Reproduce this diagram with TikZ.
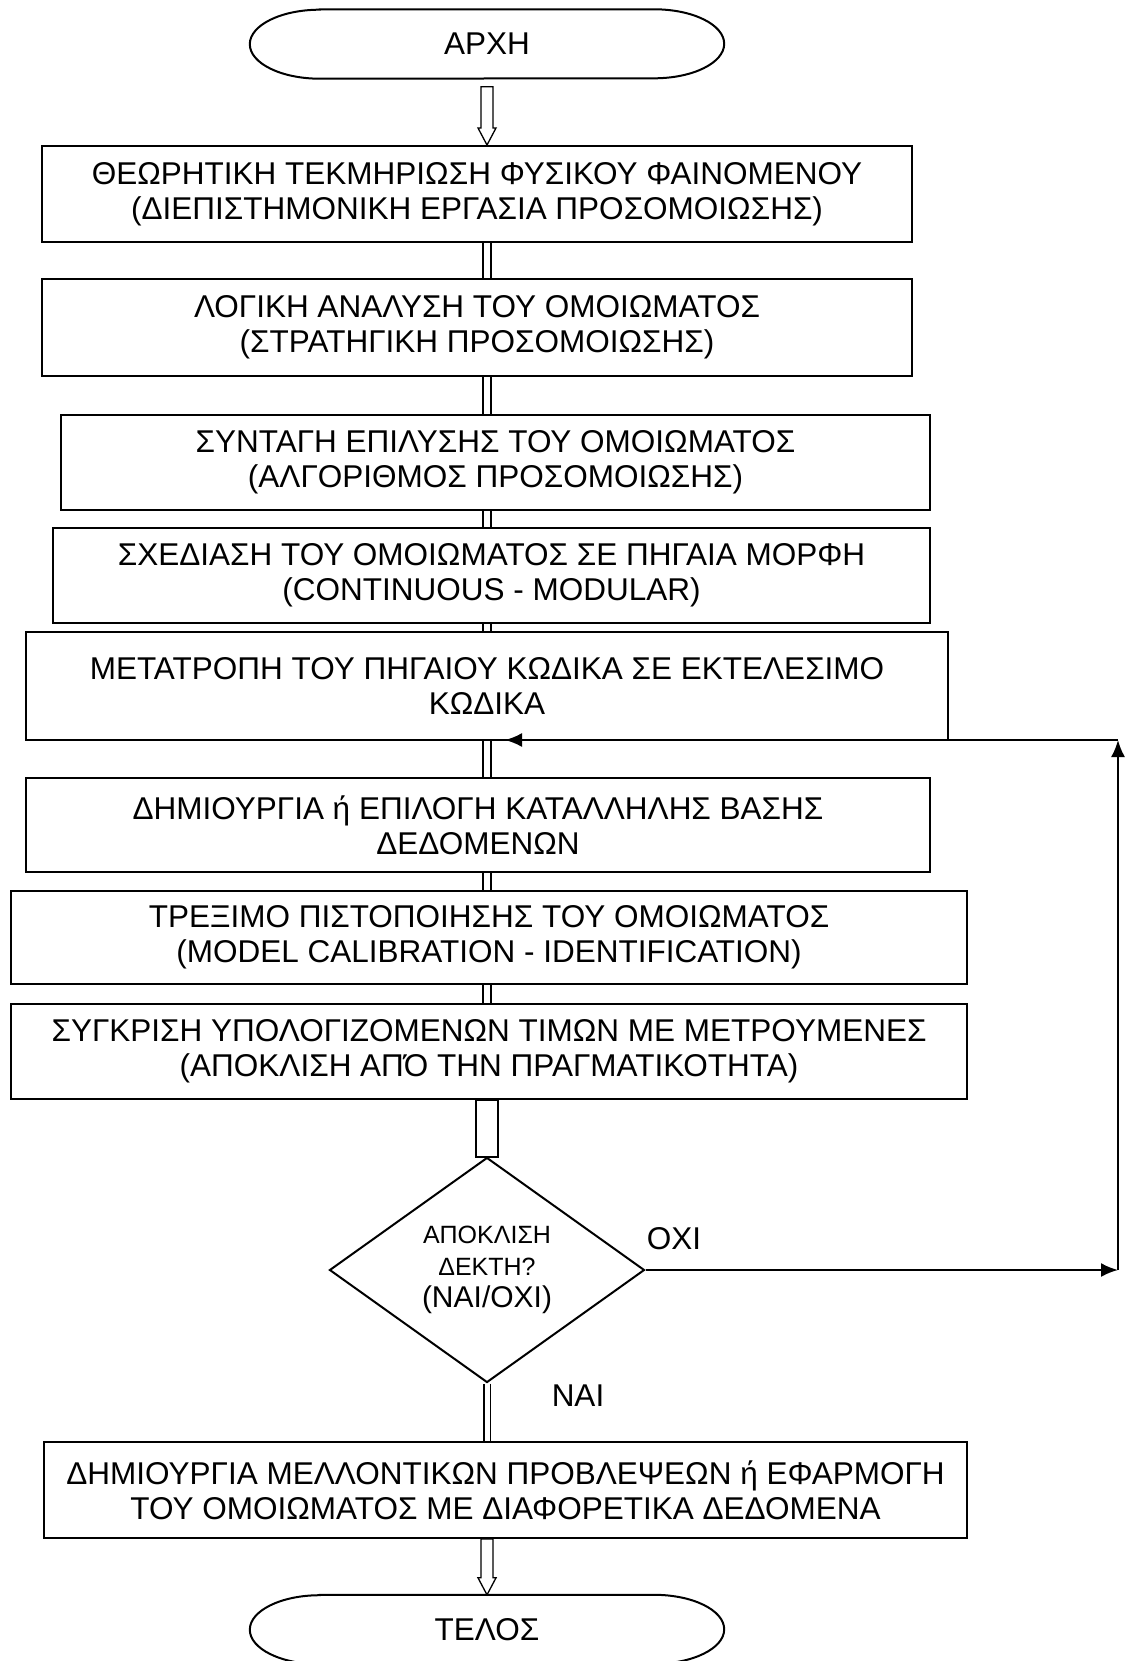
\documentclass[tikz,border=0pt]{standalone}
\usepackage{fontspec}
\setmainfont{Liberation Sans}
\usepackage{tikz}
\usetikzlibrary{calc}
\usetikzlibrary{arrows.meta}
\usetikzlibrary{shapes.geometric}
\pgfdeclarelayer{nodelayer}
\pgfdeclarelayer{edgelayer}
\pgfsetlayers{edgelayer,nodelayer,main}
\tikzset{
    none/.style = {inner sep=0pt},
    box/.style = {draw, line width=2pt, inner sep=0pt, align=center, font=\fontsize{31.5}{35}\selectfont},
    terminal/.style = {inner sep=0pt, minimum width=474pt, minimum height=69pt, font=\fontsize{31.5}{35}\selectfont},
    decision/.style = {diamond, draw, line width=2pt, inner sep=0pt, aspect=1.4, minimum width=315pt, minimum height=225pt, align=center},
    link/.style = {line width=1.6pt, double, double distance=6pt},
    flow/.style = {line width=2pt}
}
% outline of a start/end symbol with elliptic ends
\newcommand{\terminalline}[1]{%
    \draw [flow] ([xshift=70pt]#1.north west) -- ([xshift=-70pt]#1.north east)
        arc [start angle=90, end angle=-90, x radius=70pt, y radius=34.5pt]
        -- ([xshift=70pt]#1.south west)
        arc [start angle=270, end angle=90, x radius=70pt, y radius=34.5pt] -- cycle;}
% hollow block arrow going down from #1 to #2
\newcommand{\openarrow}[2]{%
    \draw [line width=1.3pt] ($(#1)+(-6,0)$) -- ($(#2)+(-6,-17)$) -- ($(#2)+(-9,-17)$) -- (#2)
        -- ($(#2)+(9,-17)$) -- ($(#2)+(6,-17)$) -- ($(#1)+(6,0)$) -- cycle;}

\begin{document}
\begin{tikzpicture}[x=1pt, y=-1pt]
    \tikzset{>={Latex[length=17pt, width=14pt]}}
    \useasboundingbox (0,0) rectangle (1131,1661);

    \begin{pgfonlayer}{nodelayer}
        \node [style=terminal] (start) at (487, 44) {ΑΡΧΗ};
        \node [style=box, minimum width=870pt, minimum height=96pt] (0) at (477, 194)
            {ΘΕΩΡΗΤΙΚΗ ΤΕΚΜΗΡΙΩΣΗ ΦΥΣΙΚΟΥ ΦΑΙΝΟΜΕΝΟΥ\\(ΔΙΕΠΙΣΤΗΜΟΝΙΚΗ ΕΡΓΑΣΙΑ ΠΡΟΣΟΜΟΙΩΣΗΣ)};
        \node [style=box, minimum width=870pt, minimum height=97pt] (1) at (477, 327.5)
            {ΛΟΓΙΚΗ ΑΝΑΛΥΣΗ ΤΟΥ ΟΜΟΙΩΜΑΤΟΣ\\(ΣΤΡΑΤΗΓΙΚΗ ΠΡΟΣΟΜΟΙΩΣΗΣ)};
        \node [style=box, minimum width=869pt, minimum height=95pt] (2) at (495.5, 462.5)
            {ΣΥΝΤΑΓΗ ΕΠΙΛΥΣΗΣ ΤΟΥ ΟΜΟΙΩΜΑΤΟΣ\\(ΑΛΓΟΡΙΘΜΟΣ ΠΡΟΣΟΜΟΙΩΣΗΣ)};
        \node [style=box, minimum width=877pt, minimum height=95pt] (3) at (491.5, 575.5)
            {ΣΧΕΔΙΑΣΗ ΤΟΥ ΟΜΟΙΩΜΑΤΟΣ ΣΕ ΠΗΓΑΙΑ ΜΟΡΦΗ\\(CONTINUOUS - MODULAR)};
        \node [style=box, minimum width=922pt, minimum height=108pt] (4) at (487, 686)
            {ΜΕΤΑΤΡΟΠΗ ΤΟΥ ΠΗΓΑΙΟΥ ΚΩΔΙΚΑ ΣΕ ΕΚΤΕΛΕΣΙΜΟ\\ΚΩΔΙΚΑ};
        \node [style=box, minimum width=904pt, minimum height=94pt] (5) at (478, 825)
            {ΔΗΜΙΟΥΡΓΙΑ ή ΕΠΙΛΟΓΗ ΚΑΤΑΛΛΗΛΗΣ ΒΑΣΗΣ\\ΔΕΔΟΜΕΝΩΝ};
        \node [style=box, minimum width=956pt, minimum height=93pt] (6) at (489, 937.5)
            {ΤΡΕΞΙΜΟ ΠΙΣΤΟΠΟΙΗΣΗΣ ΤΟΥ ΟΜΟΙΩΜΑΤΟΣ\\(MODEL CALIBRATION - IDENTIFICATION)};
        \node [style=box, minimum width=956pt, minimum height=95pt] (7) at (489, 1051.5)
            {ΣΥΓΚΡΙΣΗ ΥΠΟΛΟΓΙΖΟΜΕΝΩΝ ΤΙΜΩΝ ΜΕ ΜΕΤΡΟΥΜΕΝΕΣ\\(ΑΠΟΚΛΙΣΗ ΑΠΌ ΤΗΝ ΠΡΑΓΜΑΤΙΚΟΤΗΤΑ)};
        \node [style=decision, font=\fontsize{25}{32}\selectfont] (dec) at (487, 1270)
            {ΑΠΟΚΛΙΣΗ\\ΔΕΚΤΗ?\\{\fontsize{30}{32}\selectfont(ΝΑΙ/ΟΧΙ)}};
        \node [style=box, minimum width=923pt, minimum height=96pt] (8) at (505.5, 1490)
            {ΔΗΜΙΟΥΡΓΙΑ ΜΕΛΛΟΝΤΙΚΩΝ ΠΡΟΒΛΕΨΕΩΝ ή ΕΦΑΡΜΟΓΗ\\ΤΟΥ ΟΜΟΙΩΜΑΤΟΣ ΜΕ ΔΙΑΦΟΡΕΤΙΚΑ ΔΕΔΟΜΕΝΑ};
        \node [style=terminal] (end) at (487, 1629.5) {ΤΕΛΟΣ};
        \node [style=none, font=\fontsize{31.5}{35}\selectfont] (no) at (674, 1239) {ΟΧΙ};
        \node [style=none, font=\fontsize{31.5}{35}\selectfont] (yes) at (578, 1396) {ΝΑΙ};
        \coordinate (axis) at (487, 0);
        \coordinate (r1) at (1118, 1270);
        \coordinate (r2) at (1118, 740);
        \coordinate (back) at (505, 740);
    \end{pgfonlayer}
    \begin{pgfonlayer}{edgelayer}
        \terminalline{start}
        \terminalline{end}
        \openarrow{$(start.south)+(0,8)$}{0.north -| axis}
        \draw [link] (0.south -| axis) to (1.north -| axis);
        \draw [link] (1.south -| axis) to (2.north -| axis);
        \draw [link] (2.south -| axis) to (3.north -| axis);
        \draw [link] (3.south -| axis) to (4.north -| axis);
        \draw [link] (4.south -| axis) to (5.north -| axis);
        \draw [link] (5.south -| axis) to (6.north -| axis);
        \draw [link] (6.south -| axis) to (7.north -| axis);
        \draw [flow] ($(7.south -| dec.north)+(-11,0)$) rectangle ($(dec.north)+(11,0)$);
        \draw [link, double distance=5pt] (dec.south) to (8.north -| dec.south);
        \openarrow{8.south -| axis}{end.north}
        \draw [flow, ->] (dec.east) to (r1);
        \draw [flow, ->] (r1) to (r2);
        \draw [flow, ->] (r2) to (back);
    \end{pgfonlayer}
\end{tikzpicture}
\end{document}
